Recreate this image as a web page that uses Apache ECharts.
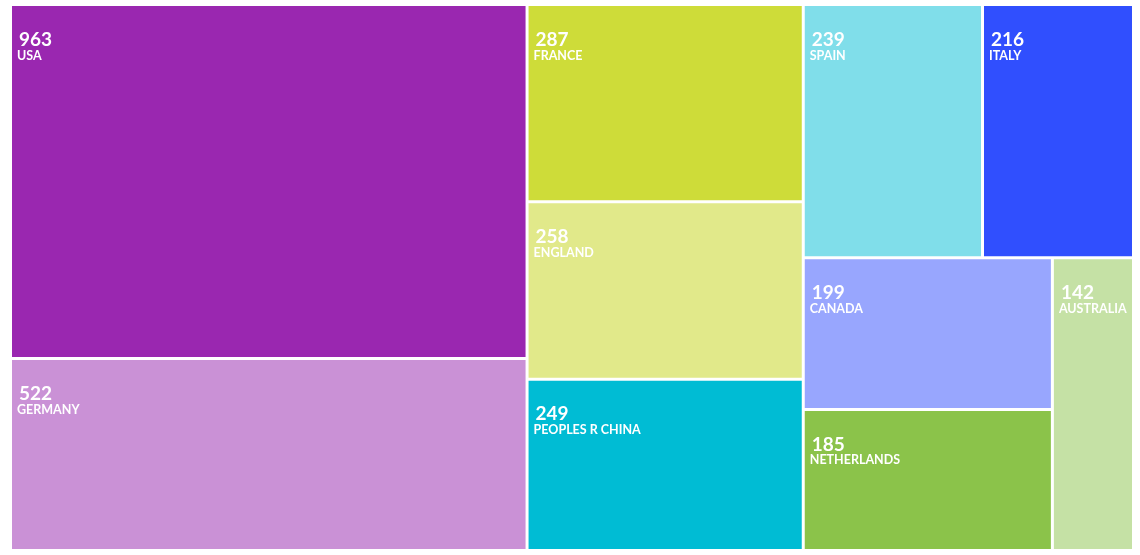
<!DOCTYPE html>
<html><head><meta charset="utf-8">
<script src="https://cdn.jsdelivr.net/npm/echarts@6/dist/echarts.min.js"></script>
<style>html,body{margin:0;padding:0;background:#fff}#w{width:1132px;height:555px;overflow:hidden}#c{width:1160px;height:555px}</style>
</head><body><div id="w"><div id="c"></div></div>
<script>
const countries = ['USA','GERMANY','FRANCE','ENGLAND','PEOPLES R CHINA','SPAIN','ITALY','CANADA','NETHERLANDS','AUSTRALIA'];
const counts = [963,522,287,258,249,239,216,199,185,142];
const colors = ['#9A27B0','#CA91D6','#CEDC39','#E1E98A','#00BCD4','#80DEEA','#304FFE','#98A6FE','#8BC34A','#C5E1A5'];

const data = countries.map((n,i)=>({name:n,value:counts[i],itemStyle:{color:colors[i]}}));
const chart = echarts.init(document.getElementById('c'));
chart.setOption({
  animation:false,
  series:[{
    type:'treemap',
    left:12, top:6, width:1131, height:543,
    roam:false, nodeClick:false,
    breadcrumb:{show:false},
    squareRatio:0.5*(1+Math.sqrt(5)),
    levels:[{itemStyle:{gapWidth:3,borderWidth:0,borderColor:'#fff'}},{itemStyle:{borderWidth:0,gapWidth:0}}],
    label:{
      show:true, position:'insideTopLeft',
      padding:[24,0,0,5],
      formatter:p=>'{v|'+p.value+'}\n{n|'+p.name+'}',
      rich:{
        v:{fontFamily:'Lato',fontSize:19,fontWeight:'bold',color:'#fff',lineHeight:19,padding:[0,0,0,2]},
        n:{fontFamily:'Lato',fontSize:12.5,fontWeight:'bold',color:'#fff',lineHeight:13}
      }
    },
    upperLabel:{show:false},
    data:data
  }]
});
</script></body></html>
